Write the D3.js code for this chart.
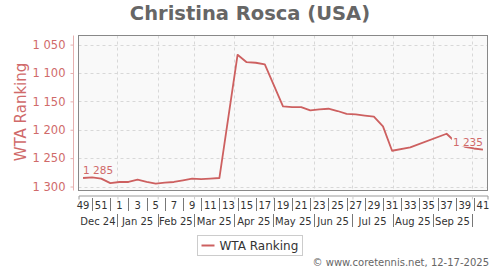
<!DOCTYPE html>
<html>
<head>
<meta charset="utf-8">
<script src="https://cdn.jsdelivr.net/npm/d3@7"></script>
<style>
  body { margin: 0; background: #fff; }
  text { font-family: "DejaVu Sans", sans-serif; }
</style>
</head>
<body>
<div id="chart"></div>
<script>
/* DATA */
// monday of each ranking week (weeks that have a point on the line)
const rankWeeks = [
  "2024-12-02", "2024-12-09", "2024-12-16", "2024-12-23", "2024-12-30",
  "2025-01-06", "2025-01-13", "2025-01-20", "2025-01-27", "2025-02-03",
  "2025-02-10", "2025-02-17", "2025-02-24", "2025-03-03", "2025-03-10",
  "2025-03-17", "2025-03-31", "2025-04-07", "2025-04-14", "2025-04-21",
  "2025-05-05", "2025-05-12", "2025-05-19", "2025-05-26", "2025-06-02",
  "2025-06-09", "2025-06-16", "2025-06-23", "2025-06-30", "2025-07-07",
  "2025-07-14", "2025-07-21", "2025-07-28", "2025-08-11", "2025-09-08",
  "2025-09-15", "2025-09-22", "2025-09-29", "2025-10-06"
];
const ranks = [
  1285, 1284, 1286, 1294, 1292,
  1292, 1288, 1292, 1295, 1293,
  1292, 1289, 1286, 1287, 1286,
  1285, 1068, 1081, 1082, 1085,
  1159, 1160, 1160, 1166, 1164,
  1163, 1167, 1172, 1173, 1175,
  1177, 1194, 1237, 1231, 1207,
  1222, 1230, 1233, 1235
];
// week numbers along the axis, starting with the week of 2024-12-02
const weekLabels = [49, 50, 51, 52, 1, 2, 3, 4, 5, 6, 7, 8, 9, 10, 11, 12, 13, 14, 15, 16,
  17, 18, 19, 20, 21, 22, 23, 24, 25, 26, 27, 28, 29, 30, 31, 32, 33, 34, 35, 36,
  37, 38, 39, 40, 41];
const monthLabels = ["Dec 24", "Jan 25", "Feb 25", "Mar 25", "Apr 25", "May 25",
  "Jun 25", "Jul 25", "Aug 25", "Sep 25", "Oct 25"];
const yTicks = [1050, 1100, 1150, 1200, 1250, 1300];

const seriesName = "WTA Ranking";
const title = "Christina Rosca (USA)";
const credit = "\u00a9 www.coretennis.net, 12-17-2025";

/* CONSTANTS */
const width = 500, height = 270;
const plot = { left: 78.5, right: 487.5, top: 35.5, bottom: 190.5 };
const red = "#cd6060";
const textRed = "#d06a6a";

const parse = d3.utcParse("%Y-%m-%d");
const mid = d => d3.utcHour.offset(parse(d), 84);   // middle of the week
const fmt = d3.formatLocale({ decimal: ".", thousands: " ", grouping: [3], currency: ["", ""] }).format(",d");

const svg = d3.select("#chart").append("svg")
  .attr("width", width)
  .attr("height", height);

const xScale = d3.scaleUtc()
  .domain([parse("2024-12-02"), parse("2025-10-13")])
  .range([plot.left, plot.right]);

const yScale = d3.scaleLinear()
  .domain([1034, 1307])
  .range([plot.top, plot.bottom]);

// title
svg.append("text")
  .attr("x", 250).attr("y", 20)
  .attr("text-anchor", "middle")
  .attr("font-size", 19.5).attr("font-weight", "bold")
  .attr("fill", "#666")
  .text(title);

// plot background
svg.append("rect")
  .attr("x", plot.left).attr("y", plot.top)
  .attr("width", plot.right - plot.left)
  .attr("height", plot.bottom - plot.top)
  .attr("fill", "#f9f9f9");

// grid
const monthStarts = d3.utcMonth.range(parse("2025-01-01"), parse("2025-10-02"));
svg.append("g").selectAll("line")
  .data(yTicks)
  .join("line")
  .attr("x1", plot.left).attr("x2", plot.right)
  .attr("y1", d => Math.round(yScale(d)) + 0.5)
  .attr("y2", d => Math.round(yScale(d)) + 0.5)
  .attr("stroke", "#d8d8d8").attr("stroke-dasharray", "3,3");
svg.append("g").selectAll("line")
  .data(monthStarts)
  .join("line")
  .attr("x1", d => Math.round(xScale(d)) + 0.5)
  .attr("x2", d => Math.round(xScale(d)) + 0.5)
  .attr("y1", plot.top).attr("y2", plot.bottom)
  .attr("stroke", "#d8d8d8").attr("stroke-dasharray", "3,3");

// series line
const lineGen = d3.line()
  .x((d, i) => xScale(mid(rankWeeks[i])))
  .y(d => yScale(d));
svg.append("path")
  .datum(ranks)
  .attr("fill", "none")
  .attr("stroke", red)
  .attr("stroke-width", 1.8)
  .attr("stroke-linejoin", "round")
  .attr("d", lineGen);

// first / last value labels
const ends = [
  { i: 0, anchor: "start" },
  { i: ranks.length - 1, anchor: "end" }
];
ends.forEach(e => {
  const px = xScale(mid(rankWeeks[e.i])), py = yScale(ranks[e.i]);
  const g = svg.append("g");
  const t = g.append("text")
    .attr("x", px).attr("y", py - 4)
    .attr("text-anchor", e.anchor)
    .attr("font-size", 10.5)
    .attr("fill", textRed)
    .text(fmt(ranks[e.i]));
  const b = t.node().getBBox();
  g.insert("rect", "text")
    .attr("x", b.x - 1).attr("y", b.y + 1)
    .attr("width", b.width + 2).attr("height", b.height - 2)
    .attr("fill", "#f9f9f9");
});

// plot border
svg.append("rect")
  .attr("x", plot.left).attr("y", plot.top)
  .attr("width", plot.right - plot.left)
  .attr("height", plot.bottom - plot.top)
  .attr("fill", "none")
  .attr("stroke", "#888");

// y axis
const yAxis = d3.axisLeft(yScale)
  .tickValues(yTicks)
  .tickSize(3)
  .tickPadding(5)
  .tickFormat(fmt);
const yAxisGroup = svg.append("g")
  .attr("transform", "translate(73.5,0)")
  .call(yAxis);
yAxisGroup.select(".domain")
  .attr("d", `M0,${plot.top}V${plot.bottom}`)
  .attr("stroke", "#e6b0b0");
yAxisGroup.selectAll(".tick line").attr("stroke", "#e6b0b0");
yAxisGroup.selectAll(".tick text")
  .attr("font-size", 11.5)
  .attr("font-family", "DejaVu Sans")
  .attr("fill", textRed);

svg.append("text")
  .attr("transform", "translate(26,112) rotate(-90)")
  .attr("text-anchor", "middle")
  .attr("font-size", 15)
  .attr("fill", textRed)
  .text(seriesName);

// x axis line and month ticks
const xAxis = d3.axisBottom(xScale)
  .tickValues(monthStarts)
  .tickSize(4)
  .tickFormat("");
const xAxisGroup = svg.append("g")
  .attr("transform", "translate(0,195.5)")
  .call(xAxis);
xAxisGroup.select(".domain").attr("stroke", "#999");
xAxisGroup.selectAll(".tick line").attr("stroke", "#ccc");

// week row: odd weeks labelled, even weeks as separators
const weekStart = parse("2024-12-02");
const weeks = weekLabels.map((w, i) => ({ w, date: d3.utcHour.offset(d3.utcWeek.offset(weekStart, i), 84) }));
svg.append("g").selectAll("text")
  .data(weeks.filter(d => d.w % 2 === 1))
  .join("text")
  .attr("x", d => xScale(d.date))
  .attr("y", 209)
  .attr("text-anchor", "middle")
  .attr("font-size", 10)
  .attr("fill", "#333")
  .text(d => d.w);
svg.append("g").selectAll("line")
  .data(weeks.filter(d => d.w % 2 === 0))
  .join("line")
  .attr("x1", d => Math.round(xScale(d.date)) + 0.5)
  .attr("x2", d => Math.round(xScale(d.date)) + 0.5)
  .attr("y1", 198).attr("y2", 211)
  .attr("stroke", "#777");

// month row
const bounds = [xScale.domain()[0], ...monthStarts, xScale.domain()[1]];
const months = monthLabels.map((m, i) => ({
  m, x0: xScale(bounds[i]), x1: xScale(bounds[i + 1])
}));
svg.append("g").selectAll("text")
  .data(months.filter(d => d.x1 - d.x0 > 30))
  .join("text")
  .attr("x", d => (d.x0 + d.x1) / 2)
  .attr("y", 225)
  .attr("text-anchor", "middle")
  .attr("font-size", 10)
  .attr("fill", "#333")
  .text(d => d.m);
svg.append("g").selectAll("line")
  .data(monthStarts)
  .join("line")
  .attr("x1", d => Math.round(xScale(d)) + 0.5)
  .attr("x2", d => Math.round(xScale(d)) + 0.5)
  .attr("y1", 214).attr("y2", 227)
  .attr("stroke", "#777");

// legend
const legend = svg.append("g").attr("transform", "translate(197.5,235.5)");
legend.append("rect")
  .attr("width", 105).attr("height", 20)
  .attr("fill", "#fff").attr("stroke", "#ccc");
legend.append("line")
  .attr("x1", 4).attr("x2", 17).attr("y1", 10).attr("y2", 10)
  .attr("stroke", red).attr("stroke-width", 2);
legend.append("text")
  .attr("x", 22).attr("y", 14.5)
  .attr("font-size", 12)
  .attr("fill", "#333")
  .text(seriesName);

// credit
svg.append("text")
  .attr("x", 489).attr("y", 266)
  .attr("text-anchor", "end")
  .attr("font-size", 10)
  .attr("fill", "#666")
  .text(credit);
</script>
</body>
</html>
